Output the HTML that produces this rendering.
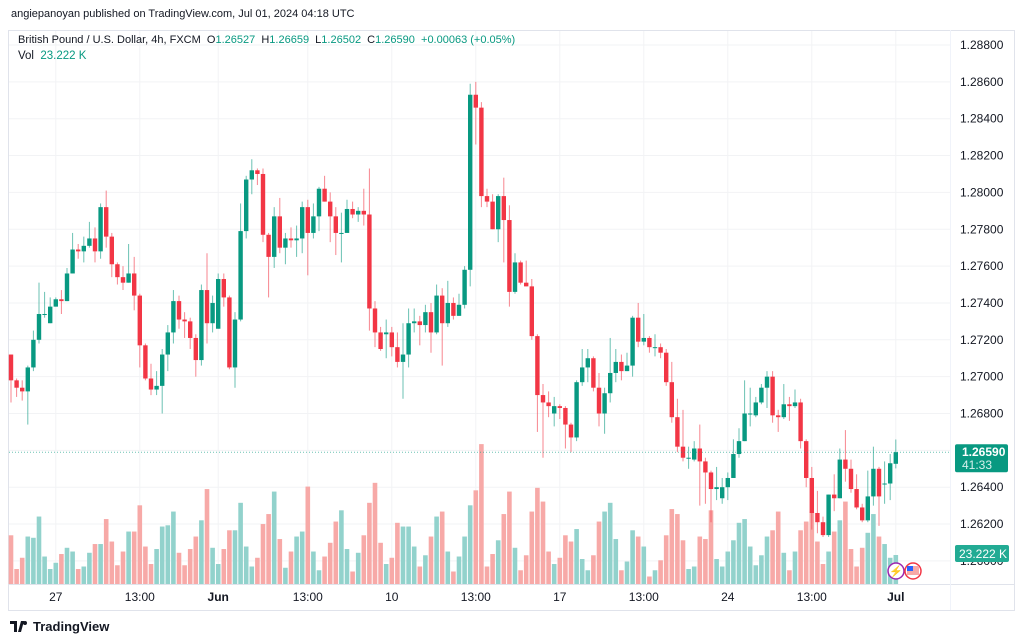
<!DOCTYPE html>
<html><head><meta charset="utf-8"><style>
body{margin:0;background:#fff;width:1024px;height:643px;overflow:hidden;font-family:"Liberation Sans",sans-serif;}
svg{position:absolute;left:0;top:0}
</style></head><body>
<svg id="chart" width="1024" height="643" xmlns="http://www.w3.org/2000/svg"></svg>
<script>
const opens=[1.2712,1.2698,1.2694,1.2692,1.2705,1.2720,1.2734,1.2729,1.2738,1.2742,1.2741,1.2756,1.2769,1.2768,1.2771,1.2775,1.2768,1.2792,1.2776,1.2761,1.2754,1.2751,1.2756,1.2744,1.2717,1.2699,1.2693,1.2695,1.2712,1.2724,1.2741,1.2731,1.2730,1.2721,1.2709,1.2747,1.2729,1.2726,1.2753,1.2743,1.2705,1.2731,1.2779,1.2807,1.2812,1.2810,1.2777,1.2765,1.2787,1.2770,1.2775,1.2774,1.2775,1.2792,1.2778,1.2787,1.2802,1.2795,1.2787,1.2778,1.2778,1.2791,1.2788,1.2790,1.2788,1.2737,1.2724,1.2723,1.2724,1.2716,1.2708,1.2712,1.2729,1.2730,1.2728,1.2735,1.2724,1.2744,1.2729,1.2740,1.2733,1.2739,1.2758,1.2853,1.2846,1.2798,1.2795,1.2780,1.2798,1.2785,1.2746,1.2762,1.2751,1.2749,1.2722,1.2690,1.2686,1.2680,1.2684,1.2683,1.2674,1.2667,1.2697,1.2705,1.2710,1.2694,1.2680,1.2691,1.2702,1.2708,1.2703,1.2706,1.2732,1.2719,1.2721,1.2716,1.2716,1.2713,1.2697,1.2678,1.2662,1.2656,1.2655,1.2661,1.2654,1.2648,1.2639,1.2634,1.2640,1.2645,1.2658,1.2665,1.2680,1.2679,1.2686,1.2694,1.2700,1.2679,1.2678,1.2685,1.2684,1.2686,1.2665,1.2645,1.2626,1.2621,1.2614,1.2636,1.2634,1.2655,1.2650,1.2639,1.2629,1.2622,1.2635,1.2650,1.2642,1.2642,1.26527];
const highs=[1.2712,1.2699,1.2698,1.2706,1.2725,1.2751,1.2746,1.2743,1.2743,1.2747,1.2759,1.2778,1.2772,1.2776,1.2784,1.2781,1.2794,1.2801,1.2778,1.2762,1.2760,1.2772,1.2765,1.2745,1.2718,1.2707,1.2703,1.2715,1.2728,1.2747,1.2744,1.2735,1.2732,1.2723,1.2750,1.2767,1.2744,1.2756,1.2756,1.2744,1.2735,1.2794,1.2809,1.2818,1.2813,1.2813,1.2778,1.2792,1.2797,1.2778,1.2781,1.2782,1.2795,1.2796,1.2794,1.2803,1.2809,1.2800,1.2792,1.2789,1.2796,1.2795,1.2792,1.2802,1.2813,1.2741,1.2727,1.2731,1.2727,1.2724,1.2729,1.2737,1.2737,1.2733,1.2739,1.2740,1.2750,1.2748,1.2752,1.2743,1.2745,1.2760,1.2859,1.2860,1.2849,1.2802,1.2799,1.2799,1.2808,1.2793,1.2767,1.2763,1.2763,1.2753,1.2723,1.2696,1.2692,1.2689,1.2685,1.2684,1.2675,1.2698,1.2715,1.2715,1.2711,1.2702,1.2694,1.2721,1.2715,1.2712,1.2713,1.2733,1.2740,1.2734,1.2722,1.2723,1.2718,1.2715,1.2708,1.2688,1.2682,1.2662,1.2665,1.2674,1.2656,1.2649,1.2651,1.2645,1.2648,1.2666,1.2672,1.2698,1.2694,1.2689,1.2696,1.2703,1.2703,1.2682,1.2696,1.2689,1.2693,1.2688,1.2666,1.2651,1.2638,1.2624,1.2636,1.2647,1.2661,1.2671,1.2655,1.2647,1.2631,1.2649,1.2662,1.2651,1.2654,1.2658,1.26659];
const lows=[1.2686,1.2689,1.2687,1.2674,1.2703,1.2718,1.2732,1.2729,1.2738,1.2734,1.2741,1.2756,1.2764,1.2762,1.2770,1.2762,1.2764,1.2770,1.2754,1.2750,1.2747,1.2751,1.2736,1.2705,1.2698,1.2690,1.2690,1.2680,1.2703,1.2718,1.2726,1.2721,1.2715,1.2700,1.2706,1.2718,1.2724,1.2726,1.2738,1.2704,1.2694,1.2730,1.2775,1.2799,1.2804,1.2773,1.2743,1.2759,1.2767,1.2761,1.2770,1.2765,1.2767,1.2755,1.2775,1.2779,1.2795,1.2773,1.2766,1.2762,1.2778,1.2786,1.2784,1.2782,1.2725,1.2716,1.2714,1.2710,1.2711,1.2705,1.2688,1.2705,1.2724,1.2717,1.2724,1.2713,1.2723,1.2706,1.2727,1.2731,1.2733,1.2737,1.2749,1.2826,1.2792,1.2792,1.2780,1.2773,1.2762,1.2738,1.2745,1.2750,1.2749,1.2720,1.2670,1.2656,1.2678,1.2673,1.2677,1.2661,1.2659,1.2665,1.2695,1.2697,1.2692,1.2673,1.2669,1.2686,1.2697,1.2698,1.2703,1.2700,1.2716,1.2717,1.2713,1.2711,1.2710,1.2695,1.2675,1.2659,1.2654,1.2650,1.2654,1.2630,1.2631,1.2621,1.2633,1.2631,1.2633,1.2645,1.2656,1.2665,1.2673,1.2678,1.2685,1.2683,1.2675,1.2670,1.2677,1.2676,1.2683,1.2661,1.2640,1.2617,1.2615,1.2613,1.2613,1.2627,1.2634,1.2643,1.2637,1.2628,1.2621,1.2621,1.2630,1.2619,1.2631,1.2633,1.26502];
const closes=[1.2698,1.2694,1.2692,1.2705,1.2720,1.2734,1.2734,1.2738,1.2742,1.2741,1.2756,1.2769,1.2768,1.2771,1.2775,1.2768,1.2792,1.2776,1.2761,1.2754,1.2751,1.2756,1.2744,1.2717,1.2699,1.2693,1.2695,1.2712,1.2724,1.2741,1.2731,1.2730,1.2721,1.2709,1.2747,1.2729,1.2740,1.2753,1.2743,1.2705,1.2731,1.2779,1.2807,1.2812,1.2810,1.2777,1.2765,1.2787,1.2770,1.2775,1.2774,1.2775,1.2792,1.2778,1.2787,1.2802,1.2795,1.2787,1.2778,1.2778,1.2791,1.2788,1.2790,1.2788,1.2737,1.2724,1.2715,1.2724,1.2716,1.2708,1.2712,1.2729,1.2730,1.2728,1.2735,1.2724,1.2744,1.2729,1.2740,1.2733,1.2739,1.2758,1.2853,1.2846,1.2798,1.2795,1.2780,1.2798,1.2785,1.2746,1.2762,1.2751,1.2749,1.2722,1.2690,1.2686,1.2684,1.2684,1.2683,1.2674,1.2667,1.2697,1.2705,1.2710,1.2694,1.2680,1.2691,1.2702,1.2708,1.2703,1.2706,1.2732,1.2719,1.2721,1.2716,1.2716,1.2713,1.2697,1.2678,1.2662,1.2656,1.2656,1.2661,1.2654,1.2648,1.2639,1.2640,1.2640,1.2645,1.2658,1.2665,1.2680,1.2680,1.2686,1.2694,1.2700,1.2679,1.2678,1.2685,1.2684,1.2686,1.2665,1.2645,1.2626,1.2621,1.2614,1.2636,1.2634,1.2655,1.2650,1.2639,1.2629,1.2622,1.2635,1.2650,1.2635,1.2642,1.2653,1.26590];
const volumes=[39,12,21,38,37,54,22,12,17,24,29,26,12,14,25,32,32,52,34,15,26,42,42,63,30,16,28,46,47,58,25,15,28,38,51,76,29,16,28,43,43,65,30,14,21,48,56,74,36,13,26,38,42,78,26,11,22,33,50,59,28,10,25,39,65,81,33,16,21,49,46,46,30,14,23,38,54,58,26,10,22,38,63,75,112,14,24,35,56,74,29,11,23,58,77,66,26,16,21,39,34,44,20,11,23,50,58,65,36,11,18,43,38,30,6,11,19,39,60,56,35,12,14,38,36,59,20,14,26,35,49,52,30,15,23,38,43,58,25,11,26,43,50,58,34,16,26,42,51,66,28,14,29,41,56,38,32,21,23.222];
const priceTicks=[1.288,1.286,1.284,1.282,1.280,1.278,1.276,1.274,1.272,1.270,1.268,1.264,1.262];
const timeLabels=["27","13:00","Jun","13:00","10","13:00","17","13:00","24","13:00","Jul"];
const timeIdx=[8,23,37,53,68,83,98,113,128,143,158];

const NS="http://www.w3.org/2000/svg";
const svg=document.getElementById('chart');
function el(tag,attrs,parent){const e=document.createElementNS(NS,tag);for(const k in attrs)e.setAttribute(k,attrs[k]);(parent||svg).appendChild(e);return e;}
const yP=p=>45+(1.288-p)*18425;
const xI=i=>11+i*5.6;
const yV=v=>584-v*1.249;
const UP="#089981",DN="#f23645",UPV="#92d2cc",DNV="#f7a9a7";

const frame=el('rect',{x:8.5,y:30.5,width:1006,height:580,fill:'none',stroke:'#e0e3eb'});


el('line',{x1:8,x2:1014,y1:584.5,y2:584.5,stroke:'#e0e3eb'});
el('line',{x1:950.5,x2:950.5,y1:30,y2:610,stroke:'#f0f3fa'});
priceTicks.concat([1.266,1.260]).forEach(p=>{const g=el('line',{x1:9,x2:950,y1:yP(p),y2:yP(p),stroke:'#f2f3f5'});});
timeIdx.forEach(i=>{const g=el('line',{x1:xI(i),x2:xI(i),y1:31,y2:584,stroke:'#f2f3f5'});});
volumes.forEach((v,i)=>{const up=closes[i]>=opens[i];const r=el('rect',{x:xI(i)-2.3,y:yV(v),width:4.6,height:584-yV(v),fill:up?UPV:DNV});

});
closes.forEach((c,i)=>{const o=opens[i],up=c>=o,col=up?UP:DN;const g=el('g',{});


el('line',{x1:xI(i),x2:xI(i),y1:yP(highs[i]),y2:yP(lows[i]),stroke:col,'stroke-width':1,'stroke-opacity':0.6},g);
const t=Math.min(yP(o),yP(c));const h=Math.max(1,Math.abs(yP(o)-yP(c)));
el('rect',{x:xI(i)-2.2,y:t,width:4.4,height:h,fill:col},g);});
const last=closes[closes.length-1];
const pl=el('line',{x1:9,x2:950,y1:yP(last),y2:yP(last),stroke:UP,'stroke-dasharray':'1 2','stroke-opacity':0.6});


priceTicks.forEach(p=>{const t=el('text',{x:960,y:yP(p)+4,'font-size':12,fill:'#131722'});t.textContent=p.toFixed(5);

});
const t26=el('text',{x:960,y:yP(1.26)+4,'font-size':12,fill:'#131722'});t26.textContent='1.26000';


const lb=el('g',{});


el('rect',{x:955,y:yP(last)-8,width:53,height:28,rx:2,fill:UP},lb);
const l1=el('text',{x:962,y:yP(last)+4,'font-size':12,fill:'#fff','font-weight':'bold'},lb);l1.textContent=last.toFixed(5);
const l2=el('text',{x:962,y:yP(last)+17,'font-size':12,fill:'#d6f0ec'},lb);l2.textContent='41:33';
const vb=el('g',{});


const lv=volumes[volumes.length-1];
el('rect',{x:955,y:yV(lv)-10,width:54,height:17,rx:2,fill:'#22ab94'},vb);
const vt=el('text',{x:959,y:yV(lv)+3,'font-size':12,fill:'#fff'},vb);vt.textContent=lv.toFixed(3)+' K';
timeLabels.forEach((s,k)=>{const t=el('text',{x:xI(timeIdx[k]),y:601,'font-size':12,fill:'#131722','text-anchor':'middle','font-weight':s==='Jun'||s==='Jul'?'bold':'normal'});t.textContent=s;

});
const ev=el('g',{});


el('circle',{cx:896,cy:571,r:8,fill:'#fff',stroke:'#9c27b0','stroke-width':1.5},ev);
const bolt=el('text',{x:896,y:575,'font-size':11,fill:'#9c27b0','text-anchor':'middle'},ev);bolt.textContent='⚡';
el('circle',{cx:913,cy:571,r:8,fill:'#fff',stroke:'#f23645','stroke-width':1.5},ev);
el('rect',{x:907,y:566,width:12,height:9,fill:'#f7a9a7'},ev);
el('rect',{x:907,y:566,width:6,height:5,fill:'#2962ff'},ev);
</script>
<div style="position:absolute;left:11px;top:8px;font-size:11px;color:#131722;">angiepanoyan published on TradingView.com, Jul 01, 2024 04:18 UTC</div>
<div style="position:absolute;left:18px;top:34px;font-size:11px;color:#131722;white-space:pre;">British Pound / U.S. Dollar, 4h, FXCM  O<span style="color:#089981">1.26527</span>  H<span style="color:#089981">1.26659</span>  L<span style="color:#089981">1.26502</span>  C<span style="color:#089981">1.26590</span>  <span style="color:#089981">+0.00063 (+0.05%)</span></div>
<div style="position:absolute;left:18px;top:50px;font-size:11.5px;color:#131722;">Vol&nbsp; <span style="color:#089981">23.222 K</span></div>
<div style="position:absolute;left:10px;top:619px;font-size:13px;font-weight:bold;color:#131722;display:flex;align-items:center;gap:5px;"><svg width="18" height="11" viewBox="0 0 18 11" style="position:static"><path d="M0 0h7v11H4V3H0z M8 11l3-11h3l-3 11z M15 0a2 2 0 1 1 0 4a2 2 0 1 1 0-4z" fill="#131722"/></svg>TradingView</div>
</body></html>
